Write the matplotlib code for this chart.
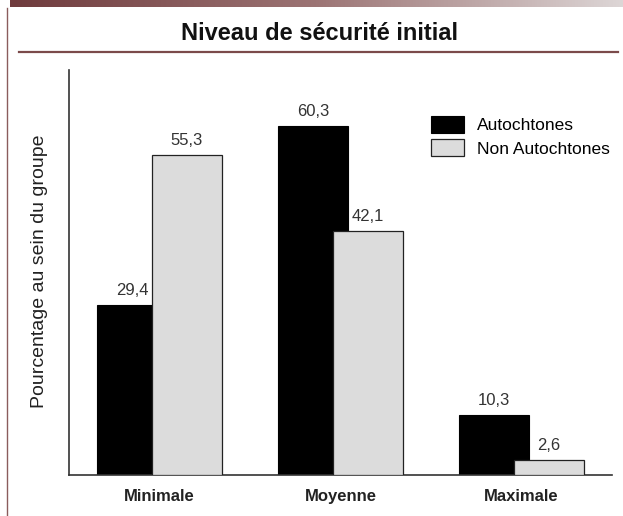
import numpy as np
import matplotlib
matplotlib.use('Agg')
import matplotlib.pyplot as plt
from matplotlib.lines import Line2D
from matplotlib.colors import LinearSegmentedColormap

plt.rcParams['font.family'] = ['Liberation Sans', 'DejaVu Sans']

# Données
categories = ['Minimale', 'Moyenne', 'Maximale']
autochtones = [29.4, 60.3, 10.3]
non_autochtones = [55.3, 42.1, 2.6]
series_labels = ['Autochtones', 'Non Autochtones']

W, H = 623, 516
fig = plt.figure(figsize=(W / 100, H / 100), dpi=100)

# Bandeau dégradé en haut
band = fig.add_axes([10 / W, 1 - 7 / H, 1 - 10 / W, 7 / H])
cmap = LinearSegmentedColormap.from_list('band', ['#6f3b3d', '#9c7474', '#ddd6d6'])
band.imshow(np.linspace(0, 1, 256)[None, :], aspect='auto', cmap=cmap)
band.axis('off')

# Filet vertical à gauche
fig.add_artist(Line2D([7 / W, 7 / W], [0, 1 - 8 / H], transform=fig.transFigure,
                      color='#8a5c5c', lw=1))

# Titre et filet
fig.text(320 / W, 1 - 33 / H, 'Niveau de sécurité initial', ha='center', va='center',
         fontsize=17, fontweight='bold', color='#111111')
fig.add_artist(Line2D([19 / W, 618 / W], [1 - 51.5 / H, 1 - 51.5 / H],
                      transform=fig.transFigure, color='#7b4a4a', lw=1.6))

# Graphique
ax = fig.add_axes([69 / W, 41 / H, (612 - 69) / W, (475 - 70) / H])
x = np.arange(len(categories))
w = 0.387
off = 0.152
b1 = ax.bar(x - off, autochtones, w, color='black', edgecolor='black', lw=0.8,
            label=series_labels[0], zorder=2)
b2 = ax.bar(x + off, non_autochtones, w, color='#dcdcdc', edgecolor='#222222', lw=0.9,
            label=series_labels[1], zorder=3)

for bars, vals in [(b1, autochtones), (b2, non_autochtones)]:
    for r, v in zip(bars, vals):
        ax.annotate(f'{v:.1f}'.replace('.', ','), (r.get_x() + r.get_width() / 2, v),
                    xytext=(0, 5), textcoords='offset points', ha='center', va='bottom',
                    fontsize=12, color='#333333', zorder=4)

ax.set_xlim(-0.5, 2.5)
ax.set_ylim(0, 70)
ax.set_yticks([])
ax.set_xticks(x)
ax.set_xticklabels(categories, fontsize=12, fontweight='bold', color='#222222',
                   family=['Liberation Sans Narrow', 'Liberation Sans'])
ax.tick_params(axis='x', length=0, pad=10)
for s in ['top', 'right']:
    ax.spines[s].set_visible(False)
for s in ['left', 'bottom']:
    ax.spines[s].set_color('#333333')
    ax.spines[s].set_linewidth(1.2)

fig.text(40 / W, 1 - 271 / H, 'Pourcentage au sein du groupe', rotation=90,
         ha='center', va='center', fontsize=14, color='#222222')

ax.legend(loc='upper left', bbox_to_anchor=(431 / W, 1 - 116 / H),
          bbox_transform=fig.transFigure, frameon=False, fontsize=12.5,
          handlelength=1.9, handleheight=1.1, handletextpad=0.75,
          labelspacing=0.35, borderpad=0, borderaxespad=0)

fig.savefig('out.png', dpi=100)
